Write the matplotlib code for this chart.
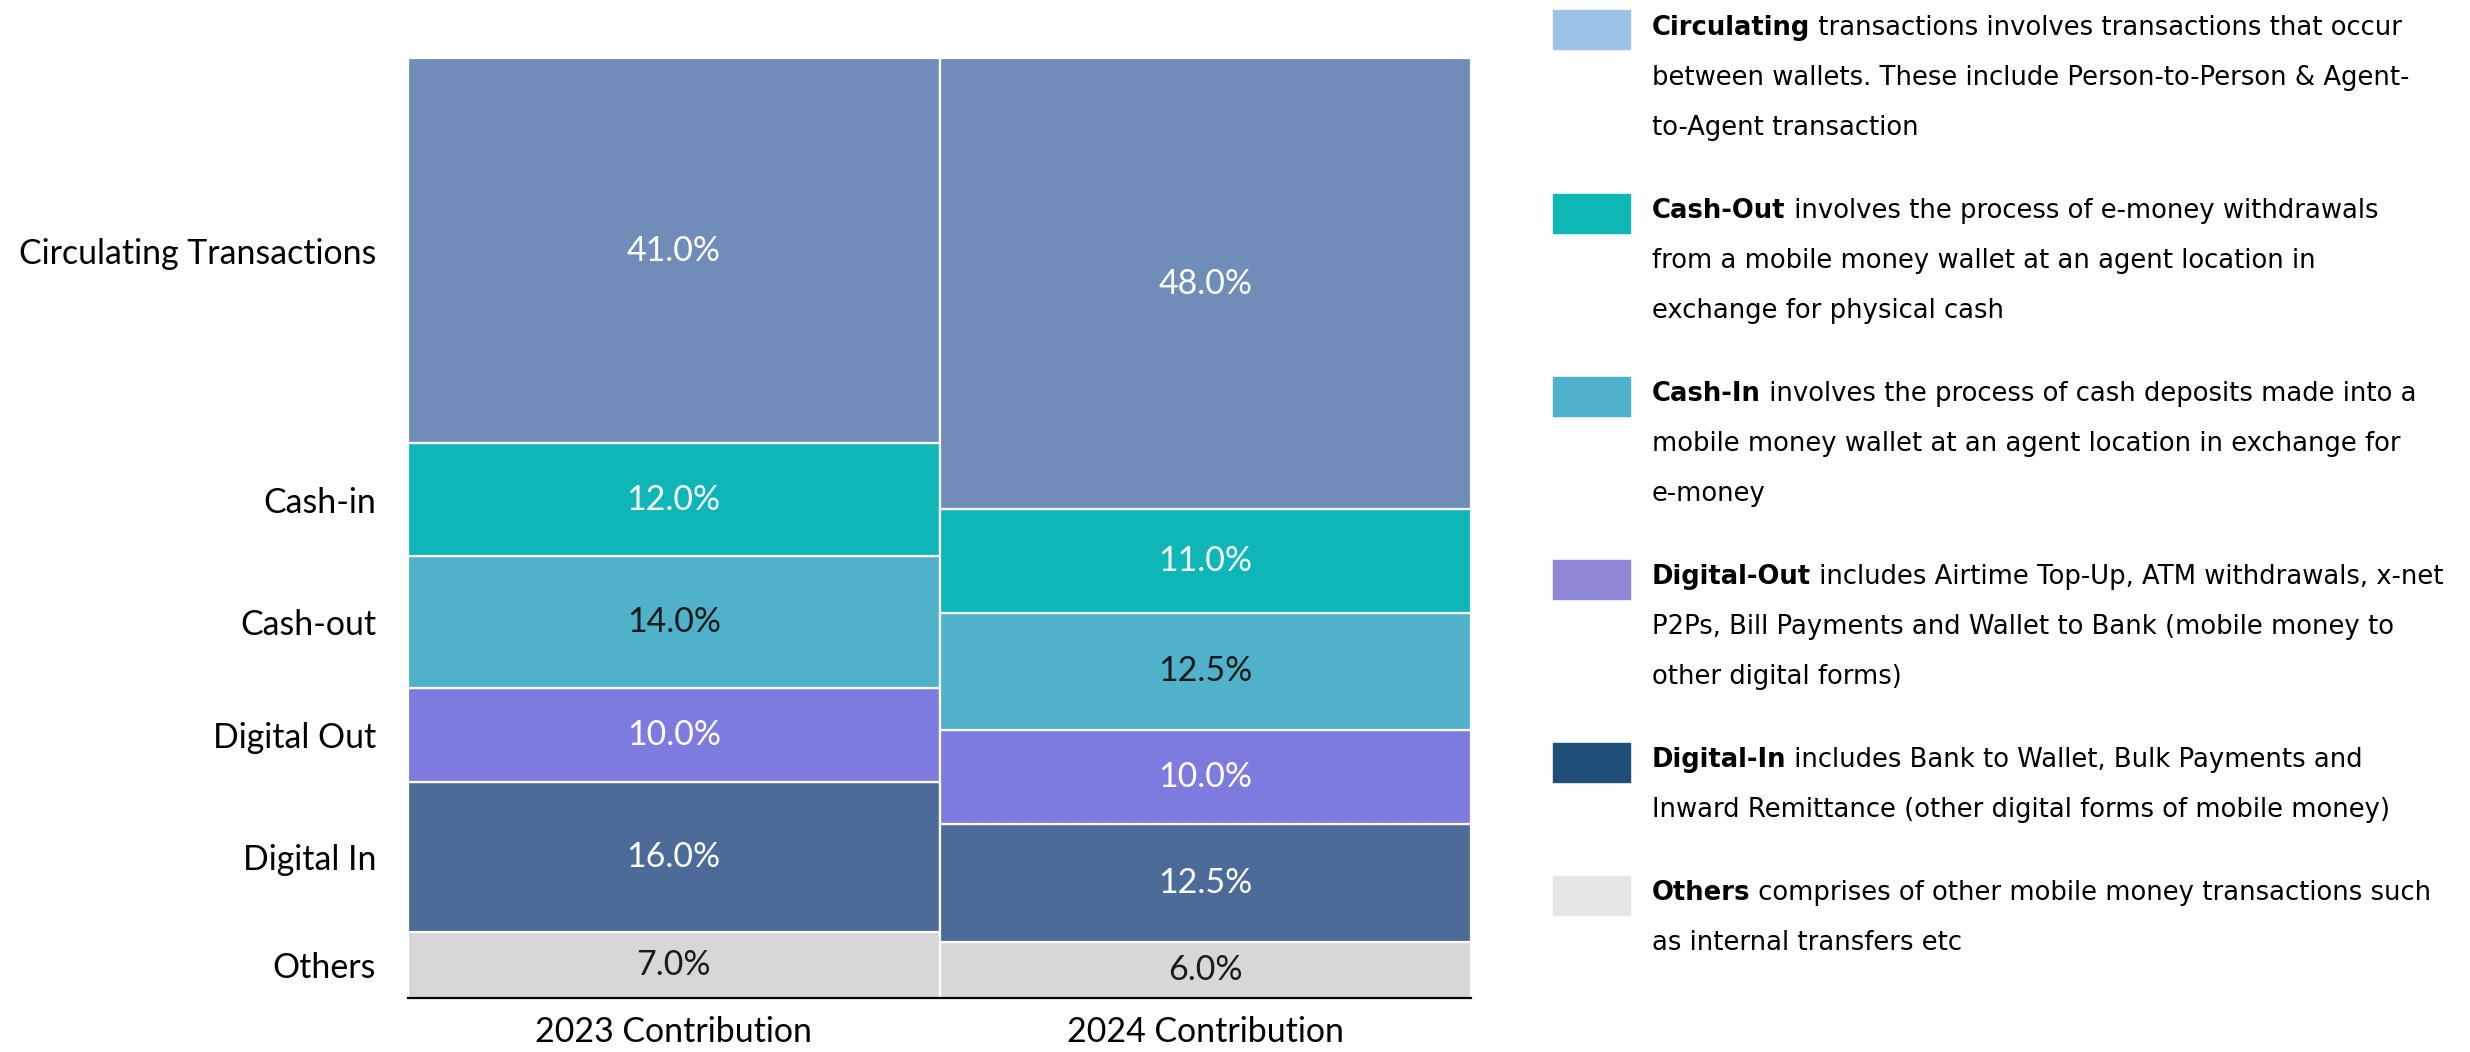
import matplotlib
matplotlib.use("Agg")
import matplotlib.pyplot as plt
import numpy as np
from matplotlib.patches import Rectangle

# ---------------------------------------------------------------------------
# Data
# ---------------------------------------------------------------------------
categories = ["Others", "Digital In", "Digital Out", "Cash-out", "Cash-in",
              "Circulating Transactions"]
years = ["2023 Contribution", "2024 Contribution"]
share_2023 = [7.0, 16.0, 10.0, 14.0, 12.0, 41.0]
share_2024 = [6.0, 12.5, 10.0, 12.5, 11.0, 48.0]

bar_colors = ["#D6D7D9", "#4C6B98", "#7D7BDE", "#50B1CB", "#0EB6B7", "#6F8DB8"]
label_colors = ["#1A1A1A", "white", "white", "#1A1A1A", "white", "white"]

legend_titles = ["Circulating", "Cash-Out", "Cash-In", "Digital-Out",
                 "Digital-In", "Others"]
legend_lines = [
    [" transactions involves transactions that occur",
     "between wallets. These include Person-to-Person & Agent-",
     "to-Agent transaction"],
    [" involves the process of e-money withdrawals",
     "from a mobile money wallet at an agent location in",
     "exchange for physical cash"],
    [" involves the process of cash deposits made into a",
     "mobile money wallet at an agent location in exchange for",
     "e-money"],
    [" includes Airtime Top-Up, ATM withdrawals, x-net",
     "P2Ps, Bill Payments and Wallet to Bank (mobile money to",
     "other digital forms)"],
    [" includes Bank to Wallet, Bulk Payments and",
     "Inward Remittance (other digital forms of mobile money)"],
    [" comprises of other mobile money transactions such",
     "as internal transfers etc"],
]
legend_colors = ["#9DC3E6", "#0EB6B6", "#4FB1CB", "#8E87D5", "#1F4E79", "#E5E5E5"]

# ---------------------------------------------------------------------------
# Figure
# ---------------------------------------------------------------------------
W, H = 2470, 1052
fig = plt.figure(figsize=(W / 100, H / 100), dpi=100)
ax = fig.add_axes([408 / W, 54 / H, 1063 / W, 940 / H])

chart_font = "Lato"
fs = 24.4

series = [share_2023, share_2024]
for xi, vals in enumerate(series):
    bottoms = np.concatenate([[0], np.cumsum(vals)[:-1]])
    for v, b, c, tc in zip(vals, bottoms, bar_colors, label_colors):
        ax.bar(xi, v, bottom=b, width=1.0, color=c, edgecolor="white",
               linewidth=1.6)
        ax.text(xi, b + v / 2, f"{v:.1f}%", ha="center", va="center",
                color=tc, fontsize=fs, family=chart_font)

ax.set_xlim(-0.5, 1.5)
ax.set_ylim(0, 100)
ax.set_xticks(range(len(years)))
ax.set_xticklabels(years, fontsize=fs, family=chart_font)

# category labels sit at the middle of the 2023 segments
centers = np.cumsum(share_2023) - np.array(share_2023) / 2
ax.set_yticks(centers)
ax.set_yticklabels(categories, fontsize=fs, family=chart_font)
ax.tick_params(axis="both", length=0)
ax.tick_params(axis="y", pad=23)
ax.tick_params(axis="x", pad=13)

for side in ("top", "right", "left"):
    ax.spines[side].set_visible(False)
ax.spines["bottom"].set_linewidth(1.6)
ax.spines["bottom"].set_color("black")

# ---------------------------------------------------------------------------
# Text legend on the right
# ---------------------------------------------------------------------------
leg_font = "DejaVu Sans"
leg_fs = 18.6
sq_x, sq_w, sq_h = 1553, 77, 39
txt_x = 1652
line_step = 50
entry_gap = 33

y = 28
for title, lines, color in zip(legend_titles, legend_lines, legend_colors):
    fig.patches.append(Rectangle((sq_x / W, 1 - (y + 2 + sq_h / 2) / H),
                                 sq_w / W, sq_h / H, color=color,
                                 transform=fig.transFigure, figure=fig))
    bold = fig.text(txt_x / W, 1 - y / H, title, fontsize=leg_fs,
                    family=leg_font, fontweight="bold", va="center",
                    ha="left")
    ax.annotate(lines[0], xy=(1, 0.5), xycoords=bold, va="center",
                ha="left", fontsize=leg_fs, family=leg_font,
                annotation_clip=False)
    for ln in lines[1:]:
        y += line_step
        fig.text(txt_x / W, 1 - y / H, ln, fontsize=leg_fs, family=leg_font,
                 va="center", ha="left")
    y += line_step + entry_gap

fig.savefig("out.png", dpi=100)
